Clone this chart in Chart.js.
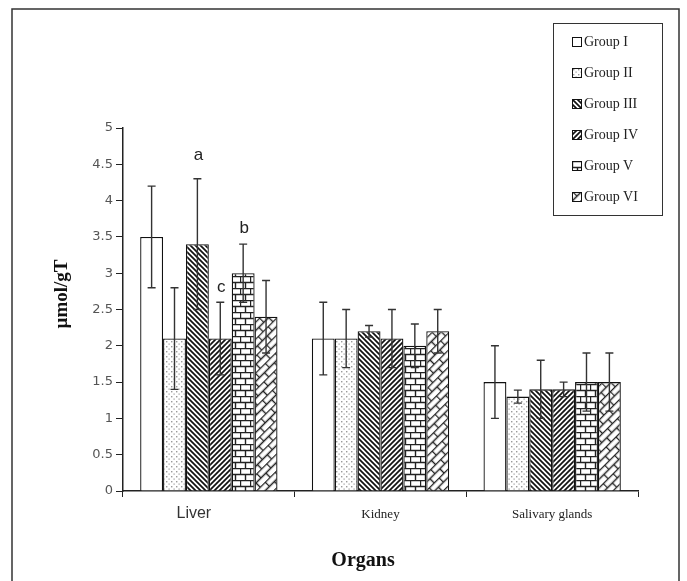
<!DOCTYPE html>
<html>
<head>
<meta charset="utf-8">
<script src="https://cdn.jsdelivr.net/npm/chart.js@4.4.0/dist/chart.umd.min.js"></script>
<style>
  body { margin: 0; background: #fff; }
  #wrap { position: relative; width: 687px; height: 581px; }
  #legend {
    position: absolute; left: 553px; top: 23px; width: 110px; height: 193px;
    border: 1px solid #333; background: #fff; box-sizing: border-box;
    padding-top: 2px;
    font-family: "Liberation Serif", serif; font-size: 14px; color: #222;
  }
  #legend .row { height: 31px; display: flex; align-items: center; padding-left: 18px; }
  #legend canvas { margin-right: 2px; }
</style>
</head>
<body>
<div id="wrap">
  <canvas id="chart" width="687" height="581"></canvas>
  <div id="legend"></div>
</div>
<script>
// organs on the x axis
const organs = ['Liver', 'Kidney', 'Salivary glands'];
const groupNames = ['Group I', 'Group II', 'Group III', 'Group IV', 'Group V', 'Group VI'];

// mean values (µmol/gT) per group, in organ order
const meanI   = [3.5, 2.1, 1.5];
const meanII  = [2.1, 2.1, 1.3];
const meanIII = [3.4, 2.2, 1.4];
const meanIV  = [2.1, 2.1, 1.4];
const meanV   = [3.0, 2.0, 1.5];
const meanVI  = [2.4, 2.2, 1.5];

// error bar half-lengths
const errI   = [0.7, 0.5, 0.5];
const errII  = [0.7, 0.4, 0.09];
const errIII = [0.9, 0.08, 0.4];
const errIV  = [0.5, 0.4, 0.1];
const errV   = [0.4, 0.3, 0.4];
const errVI  = [0.5, 0.3, 0.4];

// significance letters over the liver bars, and the value they sit at
const liverLetters = ['', '', 'a', 'c', 'b', ''];
const liverLetterAt = [0, 0, 4.63, 2.81, 3.62, 0];

const yTicks = [0, 0.5, 1, 1.5, 2, 2.5, 3, 3.5, 4, 4.5, 5];

const fills = ['blank', 'dots', 'back', 'fwd', 'brick', 'weave'];

function tile(w, h, draw){
  const c = document.createElement('canvas');
  c.width = w; c.height = h;
  const g = c.getContext('2d');
  g.fillStyle = '#fff';
  g.fillRect(0, 0, w, h);
  draw(g);
  return c;
}

function makeFill(ctx, kind){
  if(kind === 'blank') return '#fff';
  if(kind === 'dots'){
    return ctx.createPattern(tile(5, 5, g => {
      g.fillStyle = '#999';
      g.fillRect(1, 1, 1.4, 1.4);
      g.fillRect(3.5, 3.5, 1.2, 1.2);
    }), 'repeat');
  }
  if(kind === 'back' || kind === 'fwd'){
    const p = ctx.createPattern(tile(5, 5, g => {
      g.strokeStyle = '#111';
      g.lineWidth = 1.7;
      g.beginPath();
      g.moveTo(-1, -1); g.lineTo(6, 6);
      g.moveTo(-1, 4); g.lineTo(1, 6);
      g.moveTo(4, -1); g.lineTo(6, 1);
      g.stroke();
    }), 'repeat');
    if(kind === 'fwd') p.setTransform(new DOMMatrix().scale(-1, 1));
    return p;
  }
  if(kind === 'brick'){
    return ctx.createPattern(tile(10, 12, g => {
      g.strokeStyle = '#222';
      g.lineWidth = 1.4;
      g.beginPath();
      g.moveTo(0, 0.5); g.lineTo(10, 0.5);
      g.moveTo(0, 6.5); g.lineTo(10, 6.5);
      g.moveTo(0.5, 0.5); g.lineTo(0.5, 6.5);
      g.moveTo(5.5, 6.5); g.lineTo(5.5, 12);
      g.stroke();
    }), 'repeat');
  }
  // weave: bricks turned on the diagonal
  const p = ctx.createPattern(tile(14, 12, g => {
    g.strokeStyle = '#222';
    g.lineWidth = 1.4;
    g.beginPath();
    g.moveTo(0, 0.5); g.lineTo(14, 0.5);
    g.moveTo(0, 6.5); g.lineTo(14, 6.5);
    g.moveTo(0.5, 0.5); g.lineTo(0.5, 6.5);
    g.moveTo(7.5, 6.5); g.lineTo(7.5, 12);
    g.stroke();
  }), 'repeat');
  p.setTransform(new DOMMatrix().rotate(-45));
  return p;
}

const canvas = document.getElementById('chart');
const ctx = canvas.getContext('2d');

const means = [meanI, meanII, meanIII, meanIV, meanV, meanVI];
const errs = [errI, errII, errIII, errIV, errV, errVI];

const datasets = groupNames.map((name, i) => ({
  label: name,
  data: means[i],
  errors: errs[i],
  backgroundColor: makeFill(ctx, fills[i]),
  borderColor: '#111',
  borderWidth: 1.3,
  categoryPercentage: 0.8,
  barPercentage: 1.0
}));

const extras = {
  id: 'extras',
  beforeDraw(chart){
    const c = chart.ctx;
    c.save();
    c.fillStyle = '#fff';
    c.fillRect(0, 0, chart.width, chart.height);
    // outer frame
    c.strokeStyle = '#333';
    c.lineWidth = 1.5;
    c.beginPath();
    c.moveTo(12, 600); c.lineTo(12, 9); c.lineTo(679, 9); c.lineTo(679, 600);
    c.stroke();
    c.restore();
  },
  afterDatasetsDraw(chart){
    const c = chart.ctx;
    const y = chart.scales.y;
    c.save();
    c.strokeStyle = '#333';
    c.lineWidth = 1.4;
    chart.data.datasets.forEach((ds, di) => {
      chart.getDatasetMeta(di).data.forEach((bar, i) => {
        const v = ds.data[i], e = ds.errors[i];
        const top = y.getPixelForValue(v + e), bot = y.getPixelForValue(v - e);
        c.beginPath();
        c.moveTo(bar.x, top); c.lineTo(bar.x, bot);
        c.moveTo(bar.x - 4, top); c.lineTo(bar.x + 4, top);
        c.moveTo(bar.x - 4, bot); c.lineTo(bar.x + 4, bot);
        c.stroke();
      });
    });
    // letters over liver bars
    c.fillStyle = '#222';
    c.font = '17px "Liberation Sans", Arial, sans-serif';
    c.textAlign = 'center';
    c.textBaseline = 'middle';
    liverLetters.forEach((t, di) => {
      if(!t) return;
      const bar = chart.getDatasetMeta(di).data[0];
      c.fillText(t, bar.x + 1, y.getPixelForValue(liverLetterAt[di]));
    });
    c.restore();
  },
  afterDraw(chart){
    const c = chart.ctx;
    const x = chart.scales.x;
    c.save();
    c.textAlign = 'center';
    c.textBaseline = 'middle';
    organs.forEach((name, i) => {
      const px = x.getPixelForValue(i);
      if(i === 0){
        c.fillStyle = '#333';
        c.font = '16px "Liberation Sans", Arial, sans-serif';
        c.fillText(name, px - 15, 514);
      } else {
        c.fillStyle = '#222';
        c.font = '13px "Liberation Serif", serif';
        c.fillText(name, px, 515);
      }
    });
    c.fillStyle = '#111';
    c.font = 'bold 20px "Liberation Serif", serif';
    c.fillText('Organs', 363, 561);
    c.translate(62, 294);
    c.rotate(-Math.PI / 2);
    c.font = 'bold 19px "Liberation Serif", serif';
    c.fillText('µmol/gT', 0, 0);
    c.restore();
  }
};

const chart = new Chart(ctx, {
  type: 'bar',
  data: { labels: organs, datasets: datasets },
  options: {
    responsive: false,
    animation: false,
    devicePixelRatio: 1,
    layout: { padding: { left: 0, right: 49, top: 128, bottom: 0 } },
    plugins: { legend: { display: false }, tooltip: { enabled: false } },
    scales: {
      x: {
        offset: true,
        grid: { offset: true, drawOnChartArea: false, drawTicks: true, tickLength: 6, color: '#222' },
        border: { color: '#222', width: 1.5 },
        ticks: { display: false },
        afterFit(s){ s.height = 90; }
      },
      y: {
        min: 0, max: 5,
        afterBuildTicks(s){ s.ticks = yTicks.map(v => ({ value: v })); },
        grid: { drawOnChartArea: false, drawTicks: true, tickLength: 7, color: '#222' },
        border: { color: '#222', width: 1.5 },
        ticks: {
          color: '#555',
          padding: 3,
          font: { family: '"DejaVu Sans", sans-serif', size: 13 },
          callback: v => String(v)
        },
        afterFit(s){ s.width = 123; }
      }
    }
  },
  plugins: [extras]
});

// legend built from the chart's datasets
const legendBox = document.getElementById('legend');
chart.data.datasets.forEach((ds, i) => {
  const row = document.createElement('div');
  row.className = 'row';
  const sw = document.createElement('canvas');
  sw.width = 10; sw.height = 10;
  const g = sw.getContext('2d');
  g.fillStyle = makeFill(g, fills[i]);
  g.fillRect(0, 0, 10, 10);
  g.strokeStyle = '#111';
  g.lineWidth = 1;
  g.strokeRect(0.5, 0.5, 9, 9);
  const label = document.createElement('span');
  label.textContent = ds.label;
  row.appendChild(sw);
  row.appendChild(label);
  legendBox.appendChild(row);
});
</script>
</body>
</html>
